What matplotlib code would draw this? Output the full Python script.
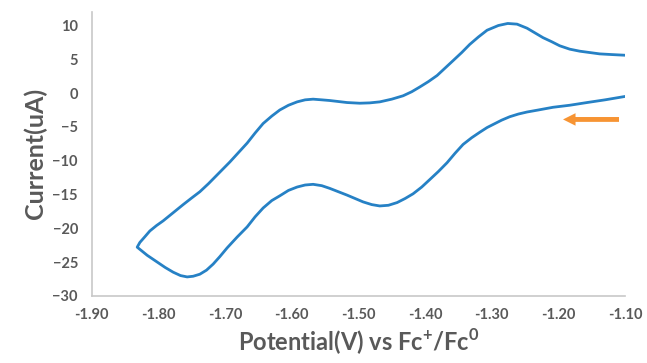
import matplotlib
matplotlib.use('Agg')
import matplotlib.pyplot as plt

# cathodic scan (right to left), then return scan back to -1.10 V
potential = [-1.100, -1.130, -1.157, -1.183, -1.208, -1.230, -1.247, -1.260,
             -1.273, -1.285, -1.295, -1.307, -1.318, -1.330, -1.343, -1.355,
             -1.367, -1.380, -1.393, -1.405, -1.418, -1.430, -1.442, -1.455,
             -1.468, -1.480, -1.493, -1.505, -1.517, -1.530, -1.543, -1.555,
             -1.568, -1.580, -1.592, -1.605, -1.618, -1.630, -1.643, -1.655,
             -1.667, -1.682, -1.697, -1.708, -1.718, -1.728, -1.738, -1.748,
             -1.757, -1.767, -1.778, -1.790, -1.802, -1.817, -1.832,
             -1.828, -1.820, -1.813, -1.803, -1.793, -1.778, -1.763, -1.750,
             -1.738, -1.725, -1.712, -1.703, -1.693, -1.680, -1.667, -1.655,
             -1.643, -1.630, -1.618, -1.605, -1.592, -1.580, -1.568, -1.555,
             -1.543, -1.530, -1.517, -1.498, -1.483, -1.468, -1.450, -1.433,
             -1.420, -1.408, -1.395, -1.382, -1.370, -1.358, -1.345, -1.333,
             -1.320, -1.307, -1.290, -1.276, -1.262, -1.247, -1.235, -1.223,
             -1.210, -1.198, -1.183, -1.168, -1.153, -1.138, -1.120, -1.100]
current = [-0.5, -1.0, -1.4, -1.8, -2.1, -2.5, -2.8, -3.1,
           -3.5, -4.0, -4.5, -5.1, -5.8, -6.6, -7.6, -8.9,
           -10.3, -11.6, -12.8, -13.9, -14.9, -15.6, -16.2, -16.6,
           -16.7, -16.5, -16.1, -15.6, -15.1, -14.6, -14.1, -13.7,
           -13.5, -13.6, -13.9, -14.4, -15.2, -15.9, -17.0, -18.3,
           -19.8, -21.3, -22.9, -24.2, -25.3, -26.2, -26.8, -27.1,
           -27.2, -27.0, -26.5, -25.8, -25.0, -24.0, -22.8,
           -22.1, -21.2, -20.4, -19.6, -18.9, -17.7, -16.5, -15.5,
           -14.6, -13.4, -12.1, -11.2, -10.2, -8.8, -7.4, -5.9,
           -4.5, -3.4, -2.5, -1.8, -1.3, -1.0, -0.9, -1.0,
           -1.1, -1.25, -1.4, -1.5, -1.45, -1.3, -0.9, -0.4,
           0.2, 0.9, 1.7, 2.6, 3.7, 4.8, 6.0, 7.2,
           8.3, 9.3, 10.0, 10.3, 10.2, 9.6, 8.9, 8.2,
           7.6, 7.0, 6.5, 6.2, 6.0, 5.8, 5.7, 5.6]

xticks = [-1.90, -1.80, -1.70, -1.60, -1.50, -1.40, -1.30, -1.20, -1.10]
yticks = [-30, -25, -20, -15, -10, -5, 0, 5, 10]

# scan direction arrow (tail -> tip)
arrow_x = [-1.109, -1.193]
arrow_y = [-3.9, -3.9]

plt.rcParams['font.family'] = ['Lato', 'DejaVu Sans']
gray = '#595959'

fig = plt.figure(figsize=(6.47, 3.63), dpi=100)
ax = fig.add_axes([0.142, 0.185, 0.824, 0.782])

ax.plot(potential, current, color='#2681C5', lw=2.0, solid_joinstyle='round')

ax.annotate('', xy=(arrow_x[1], arrow_y[1]), xytext=(arrow_x[0], arrow_y[0]),
            arrowprops=dict(arrowstyle='simple,head_length=0.9,head_width=0.9,tail_width=0.35',
                            color='#F79433', lw=0, shrinkA=0, shrinkB=0),
            annotation_clip=False)

ax.set_xlim(-1.90, -1.10)
ax.set_ylim(-30, 12)
ax.set_xticks(xticks)
ax.set_xticklabels(['%.2f' % v for v in xticks])
ax.set_yticks(yticks)
ax.tick_params(length=0, labelsize=10.5, labelcolor=gray)
ax.tick_params(axis='x', pad=9)
ax.tick_params(axis='y', pad=10)
for lab in ax.get_xticklabels() + ax.get_yticklabels():
    lab.set_fontweight('bold')

for s in ['top', 'right']:
    ax.spines[s].set_visible(False)
for s in ['left', 'bottom']:
    ax.spines[s].set_color('#C8C8C8')
    ax.spines[s].set_linewidth(1.2)

ax.set_ylabel('Current(uA)', fontsize=18, fontweight='bold', color=gray, labelpad=4)
ax.set_xlabel(r'Potential(V) vs Fc$^{\mathregular{+}}$/Fc$^{\mathregular{0}}$',
              fontsize=17, fontweight='bold', color=gray, labelpad=3)

fig.savefig('out.png', dpi=100)
